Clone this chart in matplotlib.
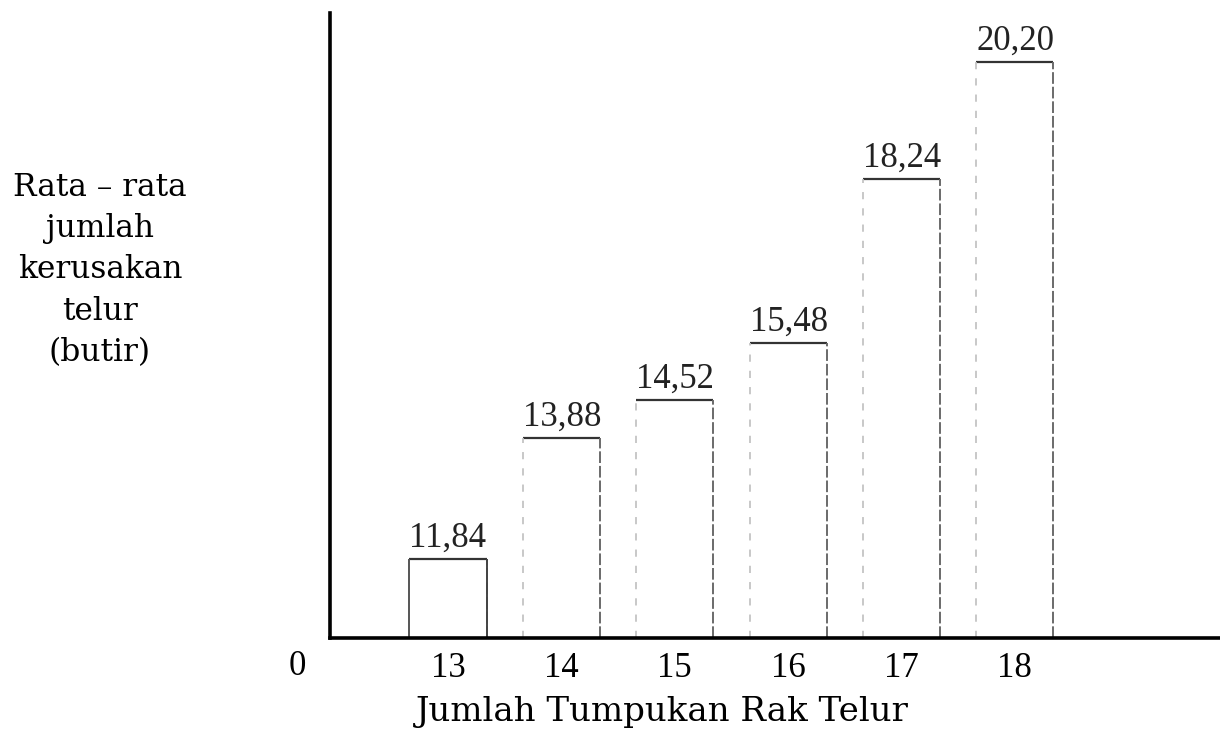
import numpy as np
import matplotlib.pyplot as plt

plt.rcParams["font.family"] = ["Liberation Serif", "DejaVu Serif"]

# data
stacks = [13, 14, 15, 16, 17, 18]
damage = [11.84, 13.88, 14.52, 15.48, 18.24, 20.20]
value_labels = ["11,84", "13,88", "14,52", "15,48", "18,24", "20,20"]
tick_labels = ["13", "14", "15", "16", "17", "18"]

x_title = "Jumlah Tumpukan Rak Telur"
y_title = "Rata – rata\njumlah\nkerusakan\ntelur\n(butir)"

if __name__ == "__main__":
    fig = plt.figure(figsize=(12.2, 7.33), dpi=100)
    ax = fig.add_axes([0.2705, 0.1296, 0.7295, 0.8527])

    x = np.array(stacks, dtype=float)
    h = np.array(damage)
    w = 0.68
    y0 = 10.51

    # invisible bars, edges drawn separately to mimic the scanned outline
    ax.bar(x, h - y0, width=w, bottom=y0, fill=False, linewidth=0)

    left = x - w / 2
    right = x + w / 2
    ax.hlines(h, left, right, color="#333333", linewidth=1.6)
    ax.vlines(right, y0, h, color="#6a6a6a", linewidth=1.4, linestyles=(0, (6, 1.5)))
    ax.vlines(left[1:], y0, h[1:], color="#c4c4c4", linewidth=1.3, linestyles=(0, (4, 5)))
    ax.vlines(left[:1], y0, h[:1], color="#555555", linewidth=1.4)
    ax.vlines(right[:1], y0, h[:1], color="#444444", linewidth=1.4)

    for xi, hi, lab in zip(left, h, value_labels):
        ax.annotate(lab, (xi, hi), xytext=(0, 3), textcoords="offset points",
                    ha="left", va="bottom", fontsize=25, color="#222222")

    ax.set_xlim(11.959, 19.81)
    ax.set_ylim(y0, 21.03)
    ax.set_xticks(x)
    ax.set_xticklabels(tick_labels, fontsize=25)
    ax.tick_params(axis="x", length=0, pad=10)
    ax.set_yticks([])
    ax.spines["top"].set_visible(False)
    ax.spines["right"].set_visible(False)
    ax.spines["left"].set_linewidth(2.6)
    ax.spines["bottom"].set_linewidth(2.6)
    ax.set_xlabel(x_title, fontsize=24.5, family=["DejaVu Serif"])
    ax.xaxis.set_label_coords(0.373, -0.093)

    ax.text(-0.037, -0.045, "0", transform=ax.transAxes, ha="center", va="center", fontsize=25)

    fig.text(100 / 1220, 1 - 270 / 733, y_title, ha="center", va="center",
             multialignment="center", fontsize=22.5, linespacing=1.42,
             family=["DejaVu Serif"])

    plt.savefig("out.png", dpi=100)
